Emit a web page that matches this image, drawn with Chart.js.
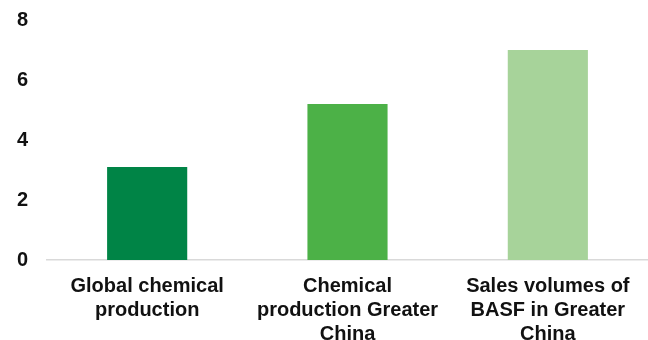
<!DOCTYPE html>
<html>
<head>
<meta charset="utf-8">
<script src="https://cdn.jsdelivr.net/npm/chart.js@4"></script>
<style>
  html, body { margin: 0; padding: 0; background: #fff; }
  #wrap { width: 648px; height: 340px; }
</style>
</head>
<body>
<div id="wrap"><canvas id="growthChart"></canvas></div>
<script>
/* data */
const categories = [
    ["Global chemical", "production"],
    ["Chemical", "production Greater", "China"],
    ["Sales volumes of", "BASF in Greater", "China"]
];
const growthValues = [3.1, 5.2, 7.0];
const barColors = ["#008446", "#4CB147", "#A7D39A"];
const yTicks = [0, 2, 4, 6, 8];

const labelFont = { family: "'Liberation Sans', Arial, sans-serif", size: 20, weight: "bold", lineHeight: 1.2 };

new Chart(document.getElementById("growthChart"), {
    type: "bar",
    data: {
        labels: categories,
        datasets: [{
            data: growthValues,
            backgroundColor: barColors,
            categoryPercentage: 1,
            barPercentage: 0.4
        }]
    },
    options: {
        responsive: true,
        maintainAspectRatio: false,
        animation: false,
        layout: { padding: 0 },
        plugins: {
            legend: { display: false },
            tooltip: { enabled: false }
        },
        scales: {
            x: {
                grid: { display: false, drawTicks: false },
                border: { display: true, color: "#d9d9d9", width: 1.5 },
                ticks: {
                    color: "#111",
                    font: labelFont,
                    padding: 14,
                    maxRotation: 0,
                    autoSkip: false
                },
                afterFit: axis => { axis.height = 80; }
            },
            y: {
                min: 0,
                max: 8,
                grid: { display: false, drawTicks: false },
                border: { display: false },
                afterBuildTicks: axis => {
                    axis.ticks = yTicks.map(v => ({ value: v }));
                },
                ticks: {
                    color: "#111",
                    font: labelFont,
                    padding: 19
                },
                afterFit: axis => {
                    axis.width = 47;
                    axis.paddingTop = 20;
                }
            }
        }
    }
});
</script>
</body>
</html>
